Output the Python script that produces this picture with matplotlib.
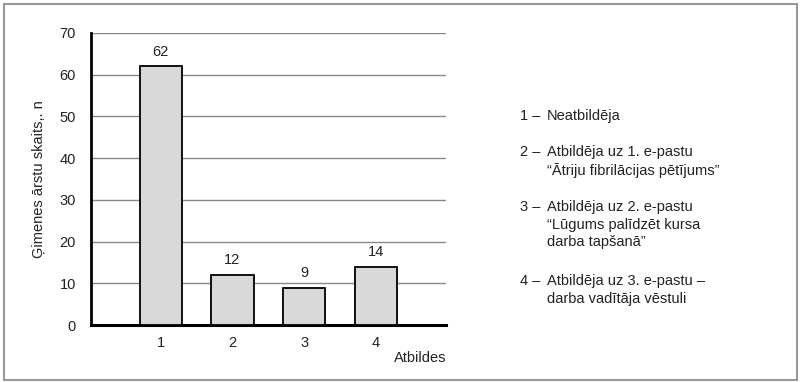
import matplotlib.pyplot as plt
from matplotlib.patches import Rectangle

plt.rcParams['font.family'] = ['Liberation Sans', 'DejaVu Sans']

# Dati
atbildes = [1, 2, 3, 4]
skaits = [62, 12, 9, 14]
y_ticks = [0, 10, 20, 30, 40, 50, 60, 70]

skaidrojumi = [
    ("1", "Neatbildēja"),
    ("2", "Atbildēja uz 1. e-pastu\n“Ātriju fibrilācijas pētījums”"),
    ("3", "Atbildēja uz 2. e-pastu\n“Lūgums palīdzēt kursa\ndarba tapšanā”"),
    ("4", "Atbildēja uz 3. e-pastu –\ndarba vadītāja vēstuli"),
]

fig = plt.figure(figsize=(8, 3.82), dpi=100)

# ramis ap visu attēlu
fig.patches.append(Rectangle((4 / 800, 2 / 382), 793 / 800, 376 / 382,
                             transform=fig.transFigure, fill=False,
                             edgecolor='#999999', linewidth=1.5))

ax = fig.add_axes([0.114, 0.149, 0.4435, 0.765])
ax.bar(atbildes, skaits, width=0.59, color='#d9d9d9', edgecolor='black',
       linewidth=1.3, zorder=3)
for x, v in zip(atbildes, skaits):
    ax.text(x, v + 1.8, str(v), ha='center', va='bottom', fontsize=10.5,
            color='#222222')

ax.set_xlim(0.03, 4.98)
ax.set_ylim(0, 70)
ax.set_yticks(y_ticks)
ax.set_xticks(atbildes)
ax.tick_params(length=0, labelsize=10.5, colors='#222222')
ax.tick_params(axis='y', pad=11)
ax.tick_params(axis='x', pad=8)
ax.grid(axis='y', color='#888888', linewidth=1, zorder=0)

for s in ['top', 'right']:
    ax.spines[s].set_visible(False)
ax.spines['left'].set_linewidth(2)
ax.spines['bottom'].set_linewidth(2.2)

ax.set_ylabel('Ģimenes ārstu skaits,. n', fontsize=10.5, color='#222222',
              labelpad=10)
ax.set_xlabel('Atbildes', fontsize=10.5, color='#222222')
ax.xaxis.set_label_coords(1.0, -0.09)
ax.xaxis.label.set_ha('right')

# skaidrojumi labajā pusē (pirmās rindas augša pikseļos)
y_top = [109, 145, 200, 274]
for (nr, txt), yp in zip(skaidrojumi, y_top):
    fy = 1 - yp / 382
    fig.text(520 / 800, fy, nr + " –", fontsize=10.5, va='top',
             color='#222222')
    fig.text(547 / 800, fy, txt, fontsize=10.5, va='top', color='#222222',
             linespacing=1.33)

fig.savefig('out.png', dpi=100)
